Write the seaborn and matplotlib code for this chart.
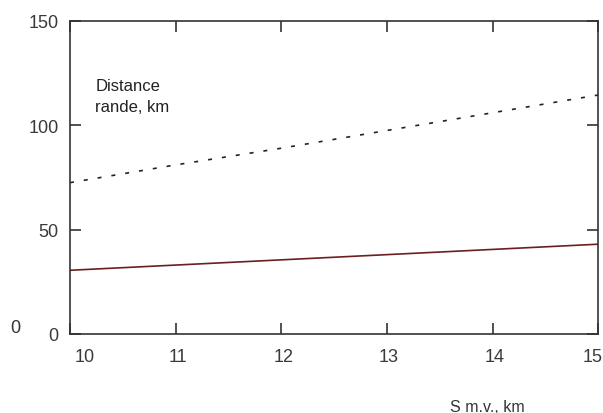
import matplotlib
matplotlib.use("Agg")
import matplotlib.pyplot as plt
import matplotlib.transforms as mtransforms
import seaborn as sns
import pandas as pd

# data
s_mv = [10, 11, 12, 13, 14, 15]
range_dashed = [72.5, 81.0, 89.0, 97.5, 106.0, 114.5]
range_solid = [30.5, 33.0, 35.5, 38.0, 40.5, 43.0]
x_ticks = [10, 11, 12, 13, 14, 15]
y_ticks = [0, 50, 100, 150]

sns.set_theme(style="ticks")
plt.rcParams["font.family"] = ["Liberation Sans", "DejaVu Sans"]

df = pd.DataFrame({"s": s_mv, "dashed": range_dashed, "solid": range_solid})

fig = plt.figure(figsize=(6.03, 4.14), dpi=100)
ax = fig.add_axes([0.116, 0.191, 0.876, 0.756])

sns.lineplot(data=df, x="s", y="dashed", ax=ax, color="#222222", linewidth=1.2,
             linestyle=(0, (2.4, 6)))
sns.lineplot(data=df, x="s", y="solid", ax=ax, color="#6b1f1f", linewidth=1.2)

ax.set_xlim(10, 15)
ax.set_ylim(0, 150)
ax.set_xticks(x_ticks)
ax.set_yticks(y_ticks)
ax.set_xlabel("")
ax.set_ylabel("")

for sp in ax.spines.values():
    sp.set_visible(True)
    sp.set_color("#333333")
    sp.set_linewidth(1.2)

ax.tick_params(axis="both", direction="in", length=8, width=1.2, color="#333333",
               labelsize=13, labelcolor="#3a3a3a", top=True, right=True)
ax.tick_params(axis="x", pad=10)
ax.tick_params(axis="y", pad=8)

# nudge first and last x labels like in the original
labels = ax.get_xticklabels()
shifts = {0: 15, len(labels) - 1: -6}
for i, lab in enumerate(labels):
    dx = shifts.get(i, 2)
    lab.set_transform(lab.get_transform() +
                      mtransforms.ScaledTranslation(dx / 100, 0, fig.dpi_scale_trans))

ax.text(10.24, 122.5, "Distance\nrande, km", fontsize=12, color="#222222",
        va="top", ha="left", linespacing=1.45)

fig.text(0.808, 0.004, "S m.v., km", fontsize=11.5, color="#333333", ha="center")
fig.text(0.025, 0.195, "0", fontsize=13, color="#333333", ha="center")

fig.savefig("out.png", dpi=100)
